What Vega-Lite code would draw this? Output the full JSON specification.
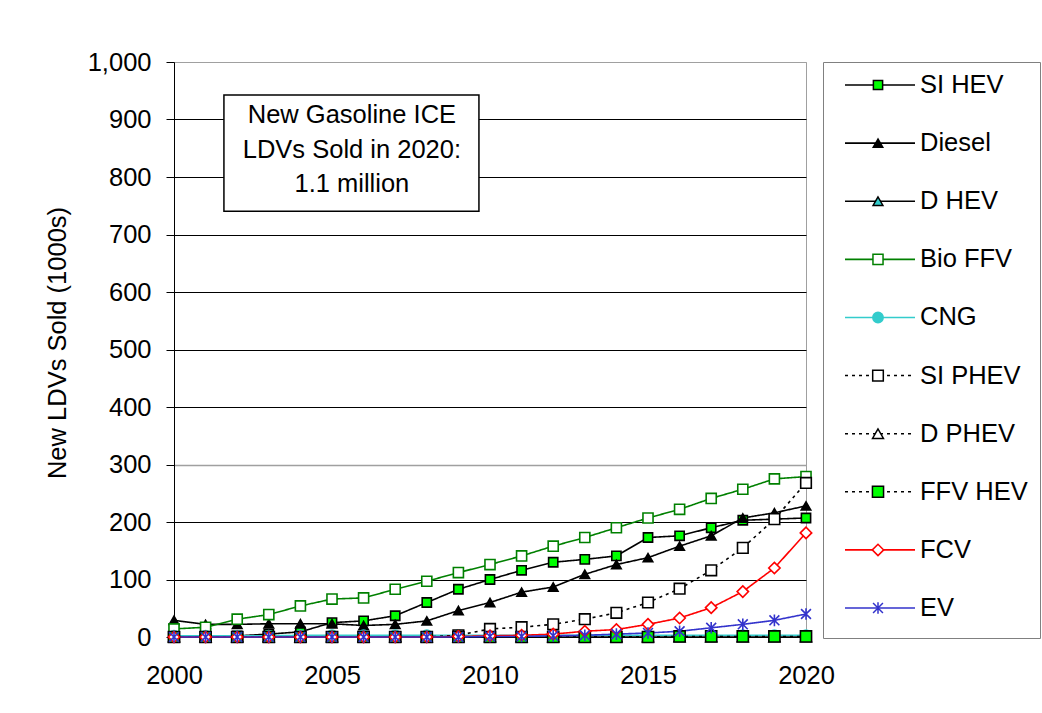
{
 "$schema": "https://vega.github.io/schema/vega-lite/v6.json",
 "background": "white",
 "padding": {"left": 44, "top": 49, "right": 0, "bottom": 0},
 "spacing": 17,
 "bounds": "flush",
 "config": {
  "font": "Liberation Sans",
  "axis": {"labelFont": "Liberation Sans", "labelFontSize": 25.5, "labelColor": "black", "titleFont": "Liberation Sans", "titleFontSize": 25.5, "titleFontWeight": "normal", "titleColor": "black", "domainColor": "black", "tickColor": "black", "domainWidth": 1},
  "text": {"font": "Liberation Sans"}
 },
 "datasets": {
  "sales": [
   {"series":"SI HEV","year":2000,"value":0},{"series":"SI HEV","year":2001,"value":1},{"series":"SI HEV","year":2002,"value":2},{"series":"SI HEV","year":2003,"value":5},{"series":"SI HEV","year":2004,"value":9},{"series":"SI HEV","year":2005,"value":25},{"series":"SI HEV","year":2006,"value":28},{"series":"SI HEV","year":2007,"value":37},{"series":"SI HEV","year":2008,"value":60},{"series":"SI HEV","year":2009,"value":83},{"series":"SI HEV","year":2010,"value":100},{"series":"SI HEV","year":2011,"value":116},{"series":"SI HEV","year":2012,"value":130},{"series":"SI HEV","year":2013,"value":135},{"series":"SI HEV","year":2014,"value":141},{"series":"SI HEV","year":2015,"value":173},{"series":"SI HEV","year":2016,"value":176},{"series":"SI HEV","year":2017,"value":190},{"series":"SI HEV","year":2018,"value":203},{"series":"SI HEV","year":2019,"value":205},{"series":"SI HEV","year":2020,"value":207},
   {"series":"Diesel","year":2000,"value":29},{"series":"Diesel","year":2001,"value":22},{"series":"Diesel","year":2002,"value":22},{"series":"Diesel","year":2003,"value":23},{"series":"Diesel","year":2004,"value":23},{"series":"Diesel","year":2005,"value":23},{"series":"Diesel","year":2006,"value":20},{"series":"Diesel","year":2007,"value":22},{"series":"Diesel","year":2008,"value":28},{"series":"Diesel","year":2009,"value":46},{"series":"Diesel","year":2010,"value":60},{"series":"Diesel","year":2011,"value":78},{"series":"Diesel","year":2012,"value":87},{"series":"Diesel","year":2013,"value":109},{"series":"Diesel","year":2014,"value":126},{"series":"Diesel","year":2015,"value":138},{"series":"Diesel","year":2016,"value":158},{"series":"Diesel","year":2017,"value":176},{"series":"Diesel","year":2018,"value":207},{"series":"Diesel","year":2019,"value":216},{"series":"Diesel","year":2020,"value":228},
   {"series":"D HEV","year":2000,"value":0},{"series":"D HEV","year":2001,"value":0},{"series":"D HEV","year":2002,"value":0},{"series":"D HEV","year":2003,"value":0},{"series":"D HEV","year":2004,"value":0},{"series":"D HEV","year":2005,"value":0},{"series":"D HEV","year":2006,"value":0},{"series":"D HEV","year":2007,"value":0},{"series":"D HEV","year":2008,"value":0},{"series":"D HEV","year":2009,"value":0},{"series":"D HEV","year":2010,"value":0},{"series":"D HEV","year":2011,"value":0},{"series":"D HEV","year":2012,"value":0},{"series":"D HEV","year":2013,"value":0},{"series":"D HEV","year":2014,"value":0},{"series":"D HEV","year":2015,"value":0},{"series":"D HEV","year":2016,"value":0},{"series":"D HEV","year":2017,"value":0},{"series":"D HEV","year":2018,"value":0},{"series":"D HEV","year":2019,"value":0},{"series":"D HEV","year":2020,"value":0},
   {"series":"Bio FFV","year":2000,"value":14},{"series":"Bio FFV","year":2001,"value":17},{"series":"Bio FFV","year":2002,"value":31},{"series":"Bio FFV","year":2003,"value":39},{"series":"Bio FFV","year":2004,"value":54},{"series":"Bio FFV","year":2005,"value":66},{"series":"Bio FFV","year":2006,"value":68},{"series":"Bio FFV","year":2007,"value":83},{"series":"Bio FFV","year":2008,"value":97},{"series":"Bio FFV","year":2009,"value":112},{"series":"Bio FFV","year":2010,"value":126},{"series":"Bio FFV","year":2011,"value":141},{"series":"Bio FFV","year":2012,"value":158},{"series":"Bio FFV","year":2013,"value":173},{"series":"Bio FFV","year":2014,"value":190},{"series":"Bio FFV","year":2015,"value":207},{"series":"Bio FFV","year":2016,"value":222},{"series":"Bio FFV","year":2017,"value":241},{"series":"Bio FFV","year":2018,"value":257},{"series":"Bio FFV","year":2019,"value":275},{"series":"Bio FFV","year":2020,"value":279},
   {"series":"CNG","year":2000,"value":2},{"series":"CNG","year":2001,"value":2},{"series":"CNG","year":2002,"value":2},{"series":"CNG","year":2003,"value":2},{"series":"CNG","year":2004,"value":3},{"series":"CNG","year":2005,"value":3},{"series":"CNG","year":2006,"value":3},{"series":"CNG","year":2007,"value":3},{"series":"CNG","year":2008,"value":3},{"series":"CNG","year":2009,"value":3},{"series":"CNG","year":2010,"value":3},{"series":"CNG","year":2011,"value":3},{"series":"CNG","year":2012,"value":3},{"series":"CNG","year":2013,"value":3},{"series":"CNG","year":2014,"value":3},{"series":"CNG","year":2015,"value":3},{"series":"CNG","year":2016,"value":3},{"series":"CNG","year":2017,"value":3},{"series":"CNG","year":2018,"value":3},{"series":"CNG","year":2019,"value":3},{"series":"CNG","year":2020,"value":3},
   {"series":"SI PHEV","year":2000,"value":0},{"series":"SI PHEV","year":2001,"value":0},{"series":"SI PHEV","year":2002,"value":0},{"series":"SI PHEV","year":2003,"value":0},{"series":"SI PHEV","year":2004,"value":0},{"series":"SI PHEV","year":2005,"value":0},{"series":"SI PHEV","year":2006,"value":0},{"series":"SI PHEV","year":2007,"value":0},{"series":"SI PHEV","year":2008,"value":0},{"series":"SI PHEV","year":2009,"value":3},{"series":"SI PHEV","year":2010,"value":14},{"series":"SI PHEV","year":2011,"value":17},{"series":"SI PHEV","year":2012,"value":22},{"series":"SI PHEV","year":2013,"value":31},{"series":"SI PHEV","year":2014,"value":42},{"series":"SI PHEV","year":2015,"value":60},{"series":"SI PHEV","year":2016,"value":84},{"series":"SI PHEV","year":2017,"value":116},{"series":"SI PHEV","year":2018,"value":155},{"series":"SI PHEV","year":2019,"value":205},{"series":"SI PHEV","year":2020,"value":268},
   {"series":"D PHEV","year":2000,"value":0},{"series":"D PHEV","year":2001,"value":0},{"series":"D PHEV","year":2002,"value":0},{"series":"D PHEV","year":2003,"value":0},{"series":"D PHEV","year":2004,"value":0},{"series":"D PHEV","year":2005,"value":0},{"series":"D PHEV","year":2006,"value":0},{"series":"D PHEV","year":2007,"value":0},{"series":"D PHEV","year":2008,"value":0},{"series":"D PHEV","year":2009,"value":0},{"series":"D PHEV","year":2010,"value":0},{"series":"D PHEV","year":2011,"value":0},{"series":"D PHEV","year":2012,"value":0},{"series":"D PHEV","year":2013,"value":0},{"series":"D PHEV","year":2014,"value":0},{"series":"D PHEV","year":2015,"value":0},{"series":"D PHEV","year":2016,"value":0},{"series":"D PHEV","year":2017,"value":0},{"series":"D PHEV","year":2018,"value":0},{"series":"D PHEV","year":2019,"value":0},{"series":"D PHEV","year":2020,"value":0},
   {"series":"FFV HEV","year":2000,"value":0},{"series":"FFV HEV","year":2001,"value":0},{"series":"FFV HEV","year":2002,"value":0},{"series":"FFV HEV","year":2003,"value":0},{"series":"FFV HEV","year":2004,"value":0},{"series":"FFV HEV","year":2005,"value":0},{"series":"FFV HEV","year":2006,"value":0},{"series":"FFV HEV","year":2007,"value":0},{"series":"FFV HEV","year":2008,"value":0},{"series":"FFV HEV","year":2009,"value":0},{"series":"FFV HEV","year":2010,"value":0},{"series":"FFV HEV","year":2011,"value":0},{"series":"FFV HEV","year":2012,"value":0},{"series":"FFV HEV","year":2013,"value":0},{"series":"FFV HEV","year":2014,"value":0},{"series":"FFV HEV","year":2015,"value":0},{"series":"FFV HEV","year":2016,"value":1},{"series":"FFV HEV","year":2017,"value":1},{"series":"FFV HEV","year":2018,"value":1},{"series":"FFV HEV","year":2019,"value":1},{"series":"FFV HEV","year":2020,"value":1},
   {"series":"FCV","year":2000,"value":0},{"series":"FCV","year":2001,"value":0},{"series":"FCV","year":2002,"value":0},{"series":"FCV","year":2003,"value":0},{"series":"FCV","year":2004,"value":0},{"series":"FCV","year":2005,"value":0},{"series":"FCV","year":2006,"value":0},{"series":"FCV","year":2007,"value":0},{"series":"FCV","year":2008,"value":0},{"series":"FCV","year":2009,"value":1},{"series":"FCV","year":2010,"value":2},{"series":"FCV","year":2011,"value":3},{"series":"FCV","year":2012,"value":5},{"series":"FCV","year":2013,"value":10},{"series":"FCV","year":2014,"value":13},{"series":"FCV","year":2015,"value":22},{"series":"FCV","year":2016,"value":33},{"series":"FCV","year":2017,"value":51},{"series":"FCV","year":2018,"value":79},{"series":"FCV","year":2019,"value":120},{"series":"FCV","year":2020,"value":181},
   {"series":"EV","year":2000,"value":0},{"series":"EV","year":2001,"value":0},{"series":"EV","year":2002,"value":0},{"series":"EV","year":2003,"value":0},{"series":"EV","year":2004,"value":0},{"series":"EV","year":2005,"value":0},{"series":"EV","year":2006,"value":0},{"series":"EV","year":2007,"value":0},{"series":"EV","year":2008,"value":0},{"series":"EV","year":2009,"value":0},{"series":"EV","year":2010,"value":1},{"series":"EV","year":2011,"value":1},{"series":"EV","year":2012,"value":2},{"series":"EV","year":2013,"value":3},{"series":"EV","year":2014,"value":5},{"series":"EV","year":2015,"value":7},{"series":"EV","year":2016,"value":10},{"series":"EV","year":2017,"value":16},{"series":"EV","year":2018,"value":22},{"series":"EV","year":2019,"value":29},{"series":"EV","year":2020,"value":40}
  ],
  "legendRows": [
   {"series":"SI HEV","rank":1},{"series":"Diesel","rank":2},{"series":"D HEV","rank":3},{"series":"Bio FFV","rank":4},{"series":"CNG","rank":5},{"series":"SI PHEV","rank":6},{"series":"D PHEV","rank":7},{"series":"FFV HEV","rank":8},{"series":"FCV","rank":9},{"series":"EV","rank":10}
  ]
 },
 "hconcat": [
  {
   "width": 632,
   "height": 575,
   "view": {"stroke": "#a0a0a0", "strokeWidth": 1},
   "layer": [
    {
     "data": {"values": [{"label": "annotation"}]},
     "mark": {"type": "rect", "fill": "white", "stroke": "black", "strokeWidth": 1.5},
     "encoding": {
      "x": {"datum": 2001.58, "type": "quantitative", "scale": {"domain": [2000, 2020], "nice": false, "zero": false}},
      "x2": {"datum": 2009.65},
      "y": {"datum": 942.5, "type": "quantitative", "scale": {"domain": [0, 1000], "nice": false}},
      "y2": {"datum": 740.4}
     }
    },
    {
     "data": {"values": [{"label": "annotation"}]},
     "mark": {"type": "text", "align": "center", "baseline": "alphabetic", "fontSize": 25.5, "lineHeight": 34.5, "color": "black", "text": ["New Gasoline ICE", "LDVs Sold in 2020:", "1.1 million"]},
     "encoding": {
      "x": {"datum": 2005.63, "type": "quantitative"},
      "y": {"datum": 893.7, "type": "quantitative"}
     }
    },
    {
     "data": {"name": "sales"},
     "mark": {"type": "line", "strokeWidth": 1.6},
     "encoding": {
      "x": {"field": "year", "type": "quantitative", "scale": {"domain": [2000, 2020], "nice": false, "zero": false},
            "axis": {"title": null, "values": [2000, 2005, 2010, 2015, 2020], "format": "d", "ticks": false, "tickSize": 0, "labelPadding": 26, "grid": false, "labelFlush": false, "labelOverlap": false}},
      "y": {"field": "value", "type": "quantitative", "scale": {"domain": [0, 1000], "nice": false},
            "axis": {"title": "New LDVs Sold (1000s)", "values": [0,100,200,300,400,500,600,700,800,900,1000], "grid": true,
                     "gridColor": {"condition": {"test": "datum.value === 300 || datum.value === 1000", "value": "#a0a0a0"}, "value": "black"},
                     "gridWidth": {"condition": {"test": "datum.value === 300", "value": 1.6}, "value": 1},
                     "tickSize": 8, "labelPadding": 15, "labelOverlap": false,
                     "titleX": -109, "titleY": 280.5, "titleAngle": 270, "titleBaseline": "alphabetic", "titleAlign": "center"}},
      "stroke": {"field": "series", "type": "nominal", "legend": null,
                 "scale": {"domain": ["SI HEV","Diesel","D HEV","Bio FFV","CNG","SI PHEV","D PHEV","FFV HEV","FCV","EV"],
                           "range": ["black","black","black","#008000","#33CCCC","black","black","black","#FF0000","#3333CC"]}},
      "strokeDash": {"field": "series", "type": "nominal", "legend": null,
                 "scale": {"domain": ["SI HEV","Diesel","D HEV","Bio FFV","CNG","SI PHEV","D PHEV","FFV HEV","FCV","EV"],
                           "range": [[1,0],[1,0],[1,0],[1,0],[1,0],[3,4],[3,4],[3,4],[1,0],[1,0]]}}
     }
    },
    {
     "data": {"name": "sales"},
     "mark": {"type": "point", "strokeWidth": 1.6, "opacity": 1},
     "encoding": {
      "x": {"field": "year", "type": "quantitative"},
      "y": {"field": "value", "type": "quantitative"},
      "shape": {"field": "series", "type": "nominal", "legend": null,
                "scale": {"domain": ["SI HEV","Diesel","D HEV","Bio FFV","CNG","SI PHEV","D PHEV","FFV HEV","FCV","EV"],
                          "range": ["square","triangle-up","triangle-up","square","circle","square","triangle-up","square","diamond","M0,-1L0,1M-0.85,-0.85L0.85,0.85M-0.85,0.85L0.85,-0.85"]}},
      "stroke": {"field": "series", "type": "nominal", "legend": null},
      "fill": {"field": "series", "type": "nominal", "legend": null,
               "scale": {"domain": ["SI HEV","Diesel","D HEV","Bio FFV","CNG","SI PHEV","D PHEV","FFV HEV","FCV","EV"],
                         "range": ["#00FF00","black","#33CCCC","white","#33CCCC","white","white","#00FF00","white","transparent"]}},
      "size": {"field": "series", "type": "nominal", "legend": null,
               "scale": {"domain": ["SI HEV","Diesel","D HEV","Bio FFV","CNG","SI PHEV","D PHEV","FFV HEV","FCV","EV"],
                         "range": [85,135,135,85,65,80,110,85,150,200]}}
     }
    }
   ]
  },
  {
   "width": 217,
   "height": 576,
   "view": {"stroke": "#808080", "strokeWidth": 1},
   "data": {"name": "legendRows"},
   "layer": [
    {
     "mark": {"type": "rule", "strokeWidth": 1.6},
     "encoding": {
      "x": {"datum": 2.2, "type": "quantitative", "scale": {"domain": [0, 21.7], "nice": false, "zero": false}, "axis": null},
      "x2": {"datum": 9.2},
      "y": {"field": "rank", "type": "quantitative", "scale": {"domain": [0.604, 10.516], "reverse": true, "nice": false, "zero": false}, "axis": null},
      "stroke": {"field": "series", "type": "nominal", "legend": null},
      "strokeDash": {"field": "series", "type": "nominal", "legend": null}
     }
    },
    {
     "mark": {"type": "point", "strokeWidth": 1.5, "opacity": 1},
     "encoding": {
      "x": {"datum": 5.5, "type": "quantitative"},
      "y": {"field": "rank", "type": "quantitative"},
      "shape": {"field": "series", "type": "nominal", "legend": null},
      "stroke": {"field": "series", "type": "nominal", "legend": null},
      "fill": {"field": "series", "type": "nominal", "legend": null},
      "size": {"field": "series", "type": "nominal", "legend": null}
     }
    },
    {
     "mark": {"type": "text", "align": "left", "baseline": "middle", "fontSize": 25.5, "color": "black"},
     "encoding": {
      "x": {"datum": 9.7, "type": "quantitative"},
      "y": {"field": "rank", "type": "quantitative"},
      "text": {"field": "series", "type": "nominal"}
     }
    }
   ]
  }
 ]
}
